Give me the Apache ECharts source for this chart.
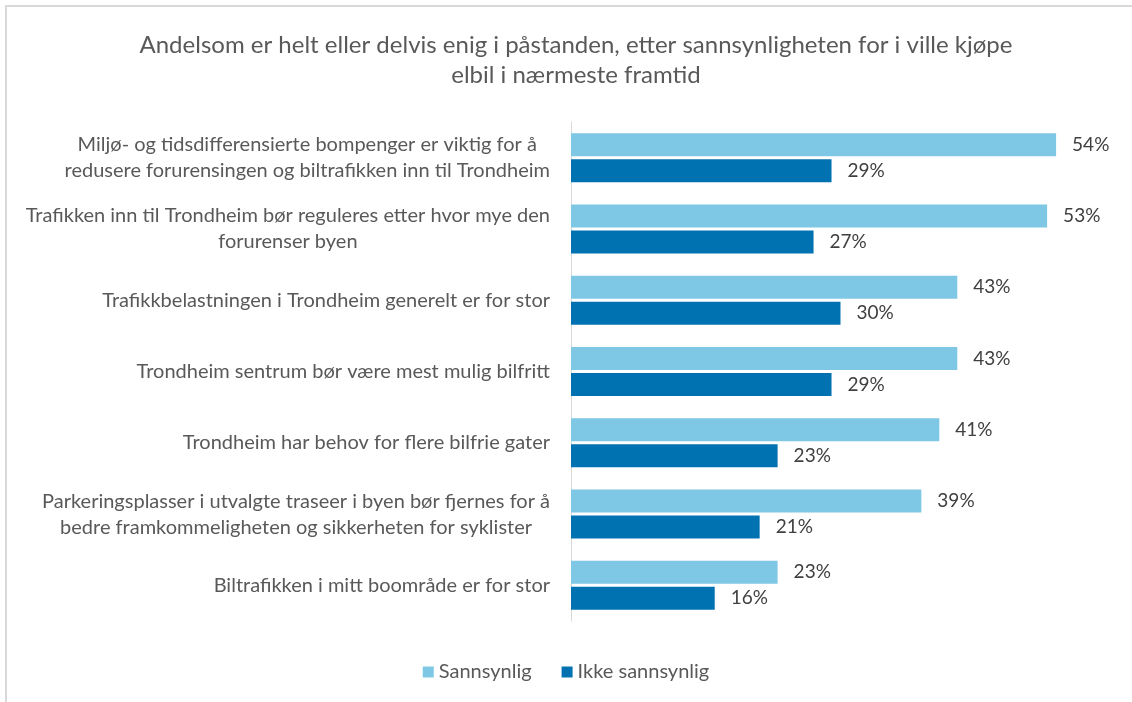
<!DOCTYPE html>
<html>
<head>
<meta charset="utf-8">
<script src="https://cdn.jsdelivr.net/npm/echarts@6/dist/echarts.min.js"></script>
<style>
  html, body { margin: 0; padding: 0; background: #fff; }
  #frame { position: absolute; left: 5px; top: 5px; width: 1140px; height: 710px; border: 2px solid #d9d9d9; box-sizing: border-box; }
  #chart { position: absolute; left: 0; top: 0; width: 1132px; height: 702px; }
</style>
</head>
<body>
<div id="frame"></div>
<div id="chart"></div>
<script>
const titleText = 'Andelsom er helt eller delvis enig i påstanden, etter sannsynligheten for i ville kjøpe\nelbil i nærmeste framtid';
const categories = [
  'Miljø- og tidsdifferensierte bompenger er viktig for å\nredusere forurensingen og biltrafikken inn til Trondheim',
  'Trafikken inn til Trondheim bør reguleres etter hvor mye den\nforurenser byen',
  'Trafikkbelastningen i Trondheim generelt er for stor',
  'Trondheim sentrum bør være mest mulig bilfritt',
  'Trondheim har behov for flere bilfrie gater',
  'Parkeringsplasser i utvalgte traseer i byen bør fjernes for å\nbedre framkommeligheten og sikkerheten for syklister',
  'Biltrafikken i mitt boområde er for stor'
];
const seriesNames = ['Sannsynlig', 'Ikke sannsynlig'];
const sannsynlig = [54, 53, 43, 43, 41, 39, 23];
const ikkeSannsynlig = [29, 27, 30, 29, 23, 21, 16];

const FONT = 'Lato';
const chart = echarts.init(document.getElementById('chart'), null, { renderer: 'canvas' });

const labelStyle = {
  show: true,
  position: 'right',
  distance: 16,
  formatter: p => p.value + '%',
  color: '#404040',
  fontFamily: FONT,
  fontSize: 19
};

chart.setOption({
  animation: false,
  textStyle: { fontFamily: FONT },
  title: {
    text: titleText,
    left: 571,
    textAlign: 'center',
    top: 25,
    textStyle: { color: '#595959', fontFamily: FONT, fontSize: 24, fontWeight: 'normal', lineHeight: 30 }
  },
  legend: {
    data: seriesNames,
    bottom: 15,
    left: 'center',
    itemWidth: 11,
    itemHeight: 11,
    itemGap: 30,
    icon: 'rect',
    textStyle: { color: '#595959', fontFamily: FONT, fontSize: 20 }
  },
  grid: { left: 571, right: 22, top: 122, bottom: 81, containLabel: false },
  xAxis: {
    type: 'value',
    min: 0,
    max: 60,
    show: false
  },
  yAxis: {
    type: 'category',
    data: categories,
    inverse: true,
    axisLine: { show: true, lineStyle: { color: '#d9d9d9', width: 1 } },
    axisTick: { show: false },
    axisLabel: {
      margin: 21,
      align: 'right',
      // each wrapped line is centred within the right-aligned label block
      formatter: v => v.split('\n').map(line => '{c|' + line + '}').join('\n'),
      rich: {
        c: {
          align: 'center',
          color: '#595959',
          fontFamily: FONT,
          fontSize: 20,
          lineHeight: 26
        }
      }
    }
  },
  series: [
    {
      name: seriesNames[0],
      type: 'bar',
      data: sannsynlig,
      barWidth: 23,
      barGap: '13%',
      itemStyle: { color: '#7ec8e6' },
      label: labelStyle
    },
    {
      name: seriesNames[1],
      type: 'bar',
      data: ikkeSannsynlig,
      barWidth: 23,
      itemStyle: { color: '#0072b2' },
      label: labelStyle
    }
  ]
});
</script>
</body>
</html>
